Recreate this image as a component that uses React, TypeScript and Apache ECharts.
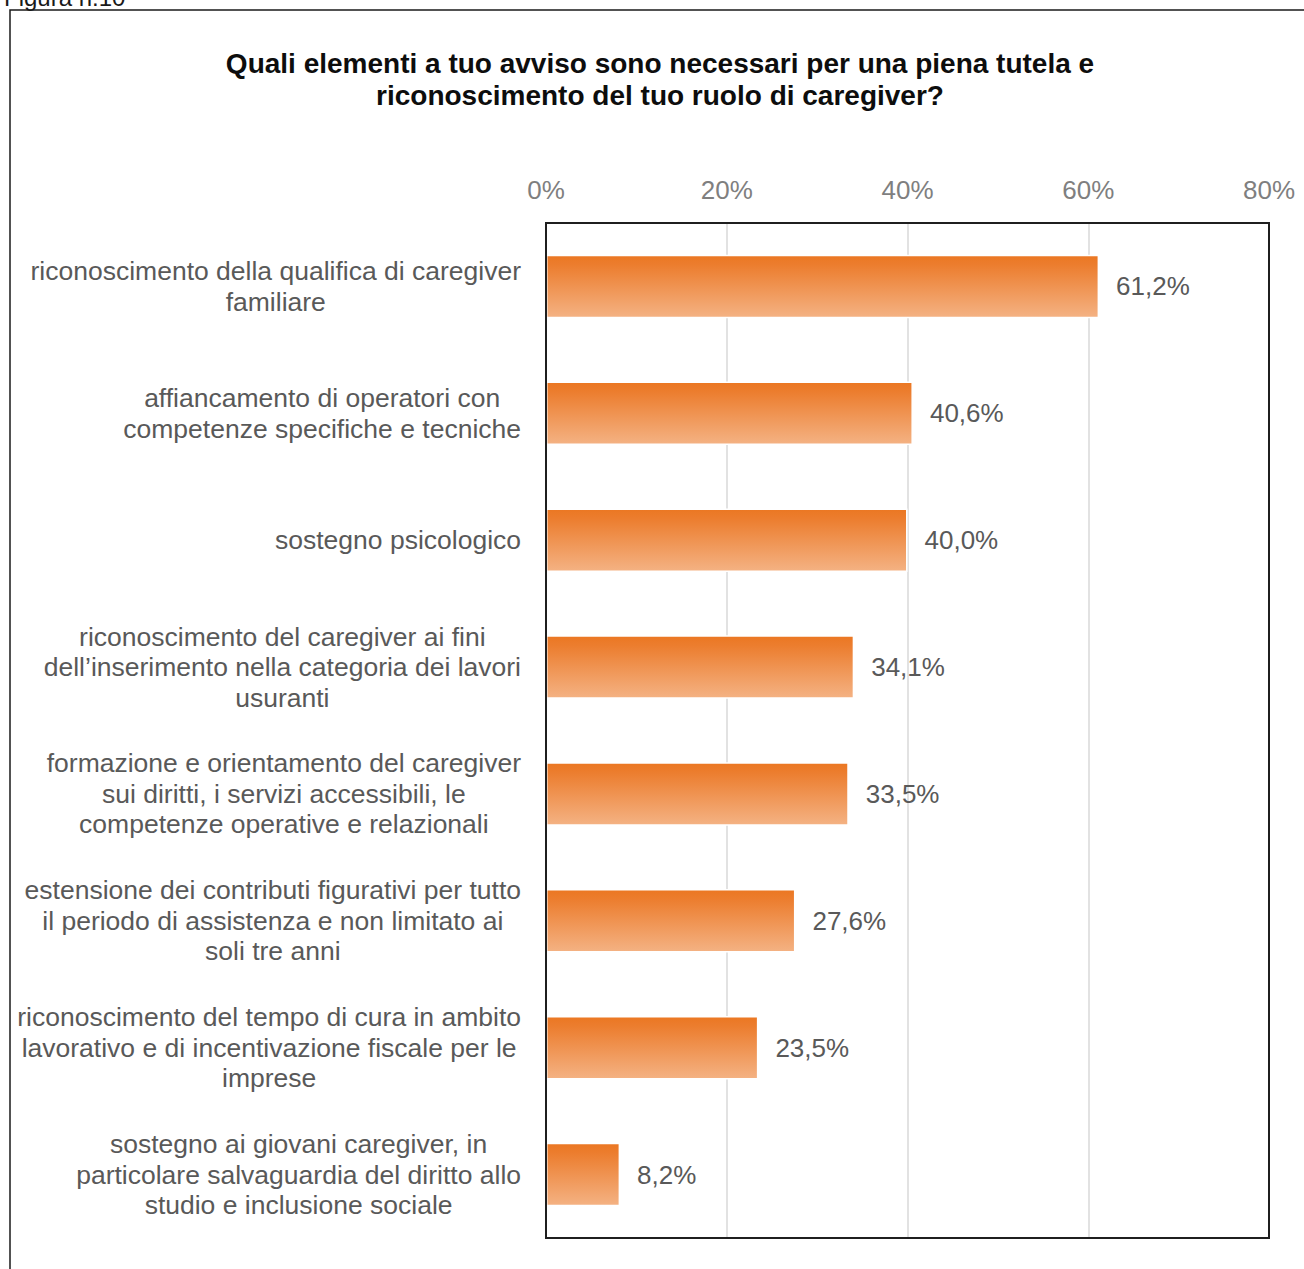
import React, { useEffect, useRef } from "react";
import * as echarts from "echarts";

const categories: string[] = [
  "riconoscimento della qualifica di caregiver\nfamiliare",
  "affiancamento di operatori con\ncompetenze specifiche e tecniche",
  "sostegno psicologico",
  "riconoscimento del caregiver ai fini\ndell’inserimento nella categoria dei lavori\nusuranti",
  "formazione e orientamento del caregiver\nsui diritti, i servizi accessibili, le\ncompetenze operative e relazionali",
  "estensione dei contributi figurativi per tutto\nil periodo di assistenza e non limitato ai\nsoli tre anni",
  "riconoscimento del tempo di cura in ambito\nlavorativo e di incentivazione fiscale per le\nimprese",
  "sostegno ai giovani caregiver, in\nparticolare salvaguardia del diritto allo\nstudio e inclusione sociale",
];
const values: number[] = [61.2, 40.6, 40.0, 34.1, 33.5, 27.6, 23.5, 8.2];
const axisMin = 0;
const axisMax = 80;
const axisStep = 20;
const titleText =
  "Quali elementi a tuo avviso sono necessari per una piena tutela e\nriconoscimento del tuo ruolo di caregiver?";
const figureLabel = "Figura n.10";

const FONT = "'Liberation Sans', Arial, sans-serif";

export default function App() {
  const ref = useRef<HTMLDivElement>(null);
  useEffect(() => {
    if (!ref.current) return;
    const chart = echarts.init(ref.current, null, { renderer: "svg" });
    chart.setOption({
      animation: false,
      backgroundColor: "#ffffff",
      textStyle: { fontFamily: FONT },
      graphic: [
        {
          type: "rect",
          shape: { x: 10, y: 10, width: 1310, height: 1280 },
          style: { fill: "none", stroke: "#1a1a1a", lineWidth: 1.5 },
          silent: true,
          z: 100,
        },
        {
          type: "text",
          x: 4,
          y: -3,
          style: {
            text: figureLabel,
            font: `24px ${FONT}`,
            fill: "#1a1a1a",
            textAlign: "left",
            textVerticalAlign: "middle",
          },
        },
        {
          type: "text",
          x: 660,
          y: 47,
          style: {
            text: titleText,
            font: `bold 28px ${FONT}`,
            fill: "#0d0d0d",
            textAlign: "center",
            textVerticalAlign: "top",
            lineHeight: 32.5,
          },
        },
      ],
      grid: {
        left: 546,
        right: 35,
        top: 223,
        bottom: 31,
        show: true,
        borderColor: "#1f1f1f",
        borderWidth: 2,
        backgroundColor: "transparent",
        z: 3,
      },
      xAxis: {
        type: "value",
        position: "top",
        min: axisMin,
        max: axisMax,
        interval: axisStep,
        axisLine: { show: false },
        axisTick: { show: false },
        axisLabel: {
          formatter: "{value}%",
          color: "#7f7f7f",
          fontSize: 26,
          fontFamily: FONT,
          margin: 20,
        },
        splitLine: { show: true, lineStyle: { color: "#d9d9d9", width: 1.5 } },
      },
      yAxis: {
        type: "category",
        inverse: true,
        data: categories,
        axisLine: { show: false },
        axisTick: { show: false },
        axisLabel: {
          margin: 25,
          align: "right",
          formatter: (v: string) =>
            v
              .split("\n")
              .map((l) => `{c|${l}}`)
              .join("\n"),
          rich: {
            c: {
              align: "center",
              fontSize: 26.5,
              lineHeight: 30.5,
              color: "#595959",
              fontFamily: FONT,
            },
          },
        },
      },
      series: [
        {
          type: "bar",
          data: values,
          barCategoryGap: "50%",
          itemStyle: {
            color: new echarts.graphic.LinearGradient(0, 0, 0, 1, [
              { offset: 0, color: "#EB7722" },
              { offset: 0.15, color: "#EC7D2E" },
              { offset: 1, color: "#F4B283" },
            ]),
            borderColor: "#ffffff",
            borderWidth: 1.5,
          },
          label: {
            show: true,
            position: "right",
            distance: 17,
            color: "#595959",
            fontSize: 26,
            fontFamily: FONT,
            formatter: (p: any) => p.value.toFixed(1).replace(".", ",") + "%",
          },
        },
      ],
    });
    return () => chart.dispose();
  }, []);
  return (
    <div
      ref={ref}
      style={{ position: "absolute", left: 0, top: 0, width: 1304, height: 1269 }}
    />
  );
}
